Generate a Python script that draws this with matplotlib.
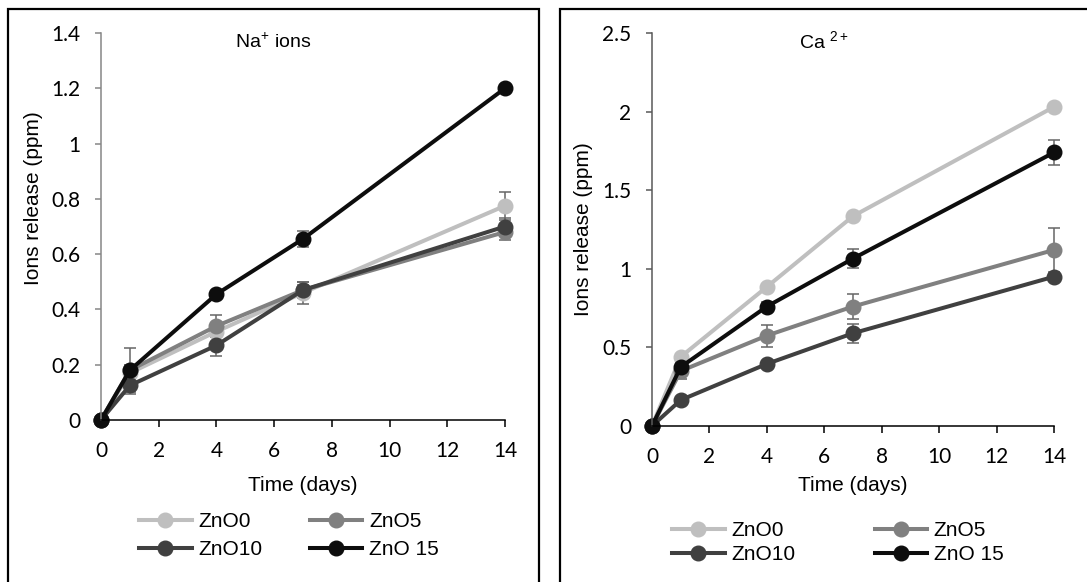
import numpy as np
import matplotlib
matplotlib.use("Agg")
import matplotlib.pyplot as plt
from matplotlib.patches import Rectangle

plt.rcParams['font.family'] = ['Liberation Sans', 'DejaVu Sans']
plt.rcParams['mathtext.fontset'] = 'custom'
plt.rcParams['mathtext.rm'] = 'Liberation Sans'

days = [0, 1, 4, 7, 14]
series = ["ZnO0", "ZnO5", "ZnO10", "ZnO 15"]
colors = ["#bfbfbf", "#808080", "#404040", "#0d0d0d"]

# Na+ release (ppm)
na_zno0 = [0, 0.17, 0.32, 0.46, 0.775]
na_zno5 = [0, 0.18, 0.34, 0.47, 0.68]
na_zno10 = [0, 0.125, 0.27, 0.47, 0.70]
na_zno15 = [0, 0.18, 0.455, 0.655, 1.20]
na_err0 = [0, 0.03, 0.02, 0.04, 0.05]
na_err5 = [0, 0.08, 0.04, 0.03, 0.03]
na_err10 = [0, 0.03, 0.04, 0.02, 0.03]
na_err15 = [0, 0.02, 0.01, 0.03, 0.01]

# Ca2+ release (ppm)
ca_zno0 = [0, 0.44, 0.885, 1.335, 2.03]
ca_zno5 = [0, 0.35, 0.575, 0.76, 1.12]
ca_zno10 = [0, 0.165, 0.395, 0.59, 0.95]
ca_zno15 = [0, 0.375, 0.76, 1.065, 1.74]
ca_err0 = [0, 0.02, 0.02, 0.02, 0.02]
ca_err5 = [0, 0.05, 0.07, 0.08, 0.14]
ca_err10 = [0, 0.02, 0.02, 0.06, 0.02]
ca_err15 = [0, 0.02, 0.03, 0.06, 0.08]

na_ticks = [0, 0.2, 0.4, 0.6, 0.8, 1, 1.2, 1.4]
ca_ticks = [0, 0.5, 1, 1.5, 2, 2.5]
x_ticks = [0, 2, 4, 6, 8, 10, 12, 14]

W, H = 1087, 582
fig = plt.figure(figsize=(W / 100, H / 100), dpi=100)

# panel frames
fig.patches.append(Rectangle((8 / W, -0.02), 531 / W, 1.02 - 8.5 / H,
                             transform=fig.transFigure, fill=False,
                             edgecolor="black", linewidth=1.6))
fig.patches.append(Rectangle((560 / W, -0.02), 0.6, 1.02 - 9 / H,
                             transform=fig.transFigure, fill=False,
                             edgecolor="black", linewidth=1.6))


def draw(ax, vals, errs, yticks, title, title_x, yspine, ylab_xy, xlab_y,
         leg_xy, leg_gap, leg_rows):
    handles = []
    for v, e, c, s in zip(vals, errs, colors, series):
        h = ax.errorbar(days, v, yerr=e, color=c, lw=2.9, marker="o", ms=10.5,
                        ecolor="#666666", elinewidth=1.1, capsize=4, capthick=1.1,
                        label=s, clip_on=False)
        handles.append(h[0])
    ax.set_xlim(0, 14)
    ax.set_ylim(0, yticks[-1])
    ax.set_xticks(x_ticks)
    ax.set_yticks(yticks)
    ax.set_xticklabels([str(t) for t in x_ticks], fontfamily="Lato", fontsize=15)
    ax.set_yticklabels(["%g" % t for t in yticks], fontfamily="Lato", fontsize=15)
    for sp in ["top", "right"]:
        ax.spines[sp].set_visible(False)
    ax.spines["left"].set_color(yspine)
    ax.spines["left"].set_linewidth(1.1)
    ax.spines["bottom"].set_linewidth(1.1)
    ax.tick_params(axis="y", direction="out", length=4, width=1.1, color=yspine, pad=11)
    ax.tick_params(axis="x", direction="out", length=5, width=1.1, color="black", pad=10)
    ax.set_xlabel("Time (days)", fontsize=15)
    ax.set_ylabel("Ions release (ppm)", fontsize=15)
    ax.xaxis.set_label_coords(0.5, xlab_y)
    ax.yaxis.set_label_coords(*ylab_xy)
    ax.text(title_x, 0.977, title, transform=ax.transAxes, ha="center",
            va="center", fontsize=14)
    # rows: ZnO0, ZnO5 / ZnO10, ZnO 15
    order = [0, 2, 1, 3]
    ax.legend([handles[i] for i in order], [series[i] for i in order],
              ncol=2, loc="upper left", frameon=False,
              bbox_to_anchor=leg_xy, bbox_transform=fig.transFigure,
              borderpad=0, handlelength=2.5, handletextpad=0.33,
              columnspacing=leg_gap, labelspacing=leg_rows, fontsize=15)


ax1 = fig.add_axes([101 / W, 1 - 420 / H, 404 / W, 387 / H])
draw(ax1, [na_zno0, na_zno5, na_zno10, na_zno15],
     [na_err0, na_err5, na_err10, na_err15], na_ticks,
     "Na$^{+}$ ions", 0.426, "#868686", (-0.144, 0.574), -0.145,
     (129 / W, 1 - 502 / H), 2.3, 0.42)

ax2 = fig.add_axes([652 / W, 1 - 426 / H, 402 / W, 393 / H])
draw(ax2, [ca_zno0, ca_zno5, ca_zno10, ca_zno15],
     [ca_err0, ca_err5, ca_err10, ca_err15], ca_ticks,
     "Ca $^{2+}$", 0.428, "#595959", (-0.147, 0.5), -0.127,
     (662 / W, 1 - 511 / H), 3.8, 0.22)

fig.savefig("out.png", dpi=100)
